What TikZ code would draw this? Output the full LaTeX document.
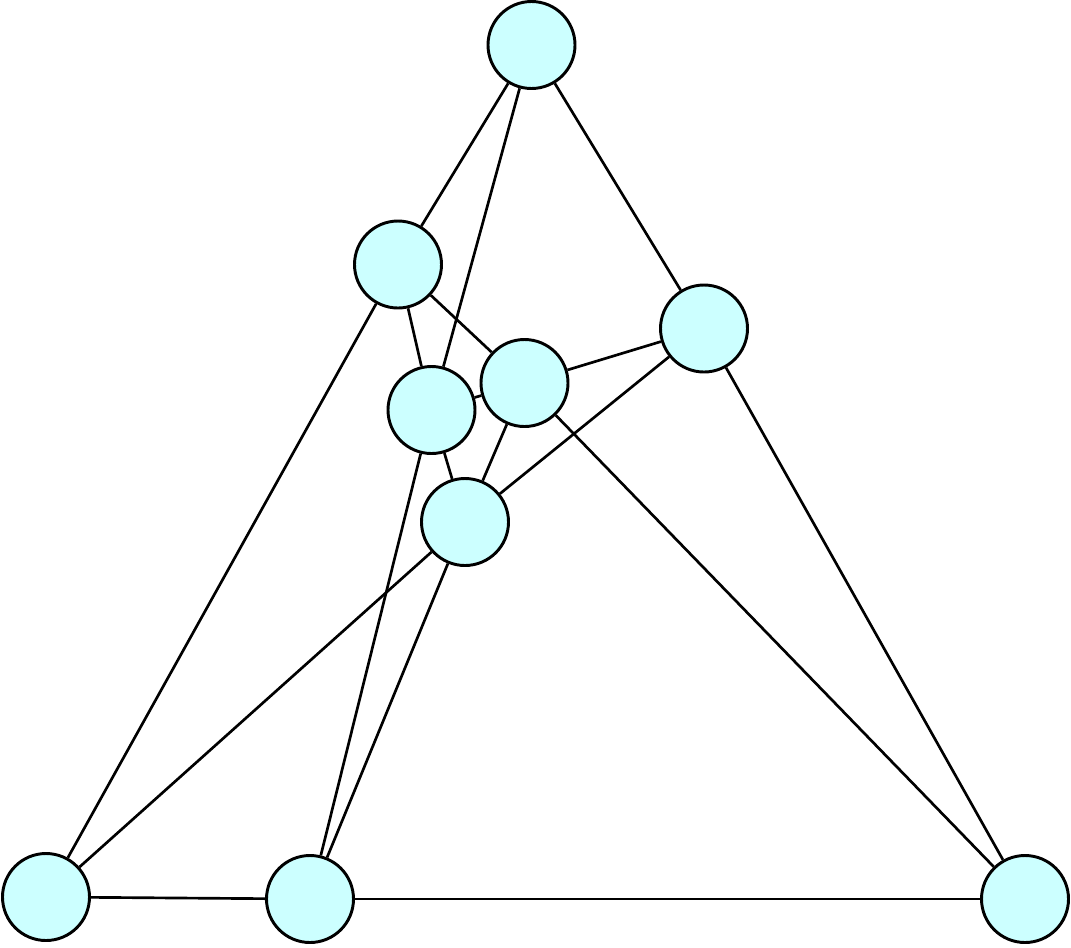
\documentclass[tikz,border=0pt]{standalone}
\definecolor{nodefill}{HTML}{CCFFFF}
\begin{document}
\begin{tikzpicture}[x=0.75pt,y=-0.75pt,
  vertex/.style={circle,draw=black,fill=nodefill,line width=2.2pt,minimum size=65.25pt,inner sep=0pt},
  edge/.style={draw=black,line width=2pt}]
\useasboundingbox (0,0) rectangle (1071,947);
\node[vertex] (A) at (531.5,45) {};
\node[vertex] (B) at (398,264.5) {};
\node[vertex] (C) at (704,328.5) {};
\node[vertex] (D) at (524.5,383) {};
\node[vertex] (E) at (431.5,410) {};
\node[vertex] (F) at (465,522) {};
\node[vertex] (G) at (46,897) {};
\node[vertex] (H) at (310,899) {};
\node[vertex] (I) at (1025,899) {};
\path[edge] (A) -- (B);
\path[edge] (A) -- (E);
\path[edge] (A) -- (C);
\path[edge] (B) -- (G);
\path[edge] (B) -- (E);
\path[edge] (B) -- (D);
\path[edge] (C) -- (D);
\path[edge] (C) -- (F);
\path[edge] (C) -- (I);
\path[edge] (D) -- (I);
\path[edge] (D) -- (F);
\path[edge] (D) -- (E);
\path[edge] (E) -- (F);
\path[edge] (E) -- (H);
\path[edge] (F) -- (H);
\path[edge] (F) -- (G);
\path[edge] (G) -- (H);
\path[edge] (H) -- (I);
\end{tikzpicture}
\end{document}
